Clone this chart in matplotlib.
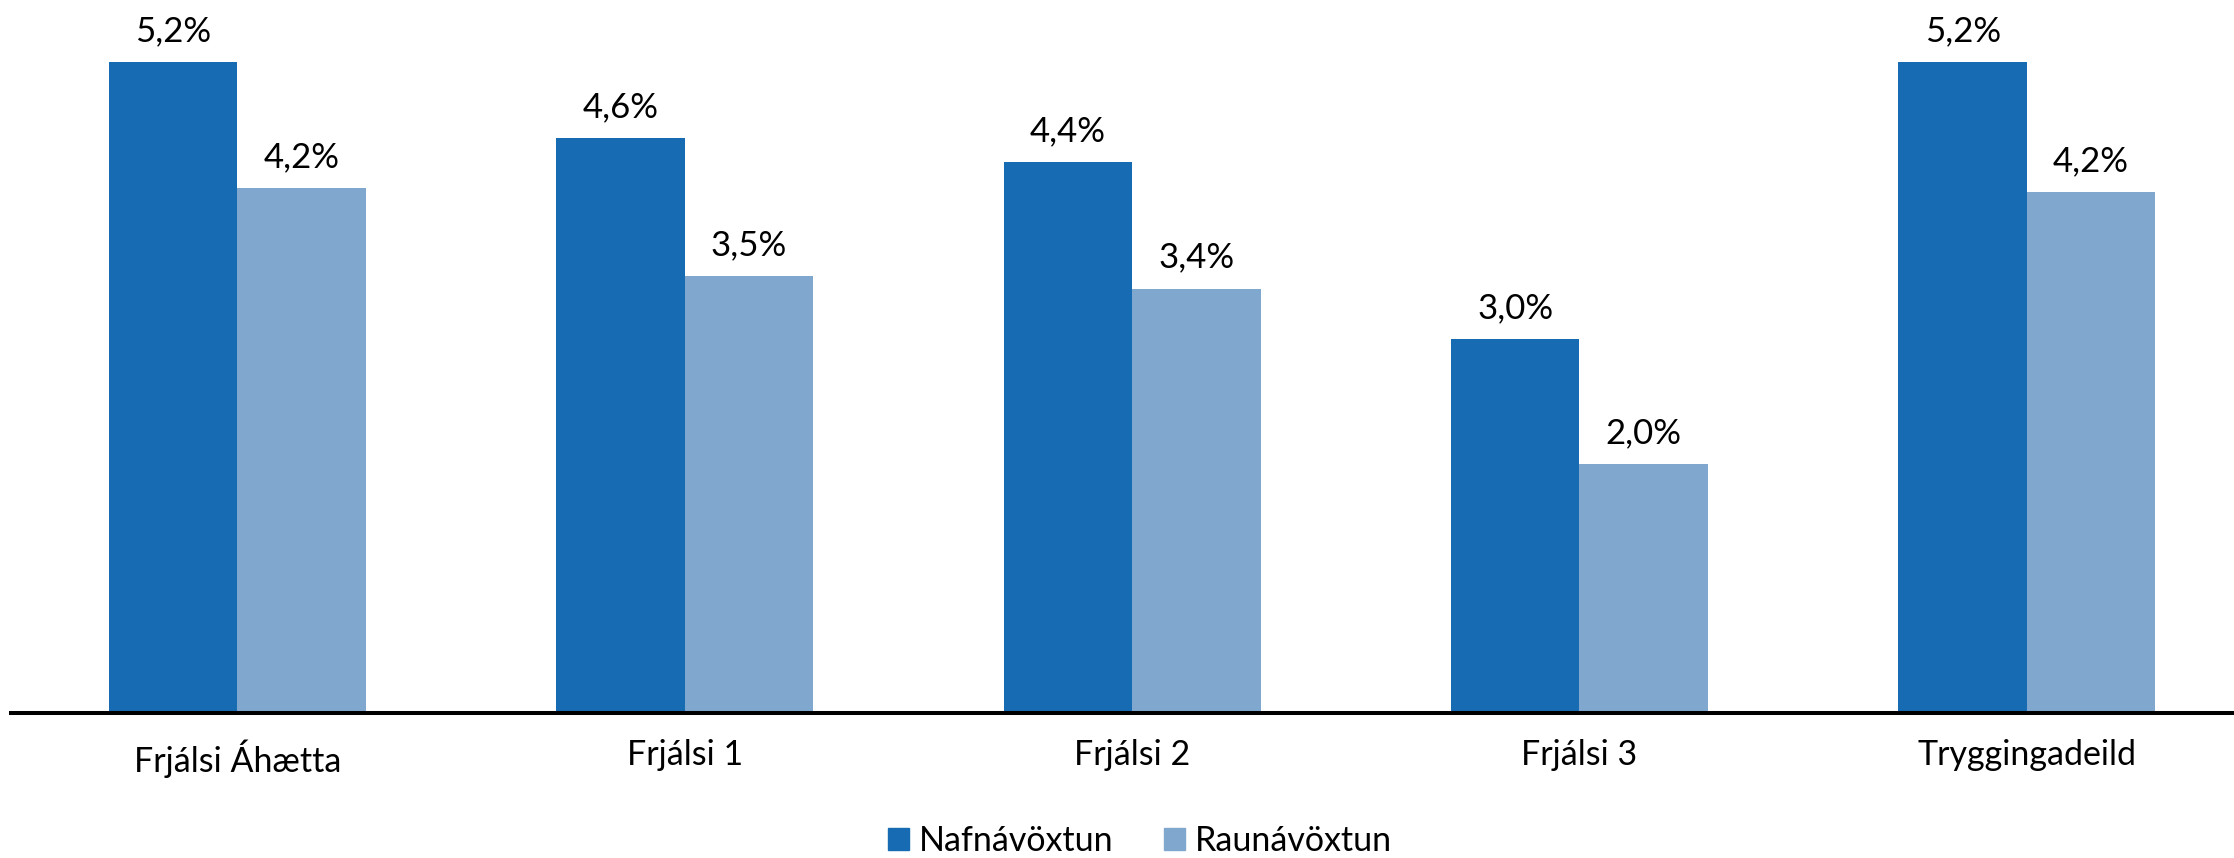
import numpy as np
import matplotlib
matplotlib.use("Agg")
import matplotlib.pyplot as plt
from matplotlib.patches import Patch

# data
categories = ["Frjálsi Áhætta", "Frjálsi 1", "Frjálsi 2", "Frjálsi 3", "Tryggingadeild"]
nafn = [5.20, 4.59, 4.40, 2.99, 5.20]
raun = [4.19, 3.49, 3.39, 1.99, 4.16]
nafn_labels = ["5,2%", "4,6%", "4,4%", "3,0%", "5,2%"]
raun_labels = ["4,2%", "3,5%", "3,4%", "2,0%", "4,2%"]
series_names = ["Nafnávöxtun", "Raunávöxtun"]

DARK = "#176bb2"
LIGHT = "#80a7ce"

plt.rcParams['font.family'] = ['Lato', 'DejaVu Sans']

W, H = 2234, 858
fig = plt.figure(figsize=(W / 100, H / 100), dpi=100)
ax = fig.add_axes([11 / W, 1 - 713 / H, (W - 11) / W, 713 / H])

x = np.arange(len(categories))
bw = 0.287
b1 = ax.bar(x - bw / 2, nafn, bw, color=DARK, linewidth=0)
b2 = ax.bar(x + bw / 2, raun, bw, color=LIGHT, linewidth=0)

#value labels above the bars
for bars, labels in [(b1, nafn_labels), (b2, raun_labels)]:
    for rect, lab in zip(bars, labels):
        ax.annotate(lab, (rect.get_x() + rect.get_width() / 2, rect.get_height()),
                    xytext=(0, 15), textcoords="offset points",
                    ha="center", va="baseline", fontsize=25)

ax.set_xlim(-0.506, 4.463)
ax.set_ylim(0, 5.695)
ax.set_xticks(x)
ax.set_xticklabels(categories, fontsize=24.5)
ax.tick_params(axis="x", length=0, pad=19)
ax.set_yticks([])
for s in ["top", "right", "left"]:
    ax.spines[s].set_visible(False)
ax.spines["bottom"].set_linewidth(2.9)
ax.spines["bottom"].set_color("black")

handles = [Patch(color=DARK), Patch(color=LIGHT)]
fig.legend(handles, series_names, loc="center", bbox_to_anchor=(1140 / W, 1 - 841 / H),
           ncol=2, frameon=False, fontsize=24.5, handlelength=0.62, handleheight=0.62,
           handletextpad=0.29, columnspacing=1.5, borderpad=0)

fig.savefig("out.png", dpi=100, facecolor="white")
